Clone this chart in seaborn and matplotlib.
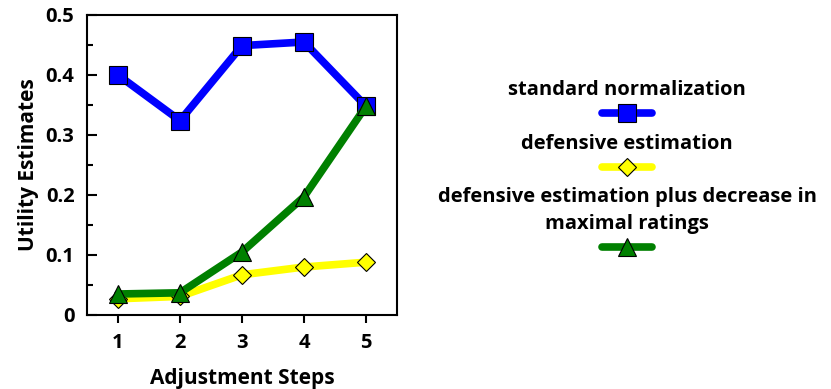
import matplotlib
matplotlib.use('Agg')
import matplotlib.pyplot as plt
import seaborn as sns
import pandas as pd
from matplotlib.lines import Line2D
from matplotlib.ticker import MultipleLocator

steps = [1, 2, 3, 4, 5]
standard_norm = [0.40, 0.324, 0.449, 0.455, 0.348]
defensive_est = [0.027, 0.031, 0.067, 0.080, 0.088]
defensive_plus = [0.035, 0.037, 0.105, 0.197, 0.348]

labels = ['standard normalization',
          'defensive estimation',
          'defensive estimation plus decrease in\nmaximal ratings']
colors = ['#0000ff', '#ffff00', '#008000']
markers = ['s', 'D', '^']
msizes = [13, 9, 13]

sns.set_style('white')
plt.rcParams['font.family'] = ['Open Sans', 'DejaVu Sans']
plt.rcParams['font.weight'] = 'bold'
for k in ['text.color', 'axes.labelcolor', 'xtick.color', 'ytick.color']:
    plt.rcParams[k] = 'black'

fig = plt.figure(figsize=(8.31, 3.89), dpi=100)
ax = fig.add_axes([87/831, 1 - 315/389, 310/831, 300/389])

series = [standard_norm, defensive_est, defensive_plus]
for vals, c, m, ms in zip(series, colors, markers, msizes):
    df = pd.DataFrame({'step': steps, 'val': vals})
    sns.lineplot(data=df, x='step', y='val', ax=ax, color=c, linewidth=5.5,
                 marker=m, markersize=ms, markeredgecolor='black',
                 markeredgewidth=0.8, legend=False)

ax.set_xlim(0.5, 5.5)
ax.set_ylim(0, 0.5)
ax.set_xticks(steps)
ax.set_yticks([0, 0.1, 0.2, 0.3, 0.4, 0.5])
ax.set_yticklabels(['0', '0.1', '0.2', '0.3', '0.4', '0.5'])
ax.yaxis.set_minor_locator(MultipleLocator(0.05))
ax.tick_params(axis='y', which='major', direction='in', length=7, width=1.5,
               labelsize=14.5, pad=9, left=True)
ax.tick_params(axis='y', which='minor', direction='in', length=4, width=1.5, left=True)
ax.tick_params(axis='x', which='major', direction='out', length=6, width=1.5,
               labelsize=14.5, pad=7, bottom=True)
for s in ax.spines.values():
    s.set_color('black')
    s.set_linewidth(1.5)
ax.set_xlabel('Adjustment Steps', fontsize=15, fontweight='bold', labelpad=11)
ax.set_ylabel('Utility Estimates', fontsize=15, fontweight='bold', labelpad=5)

# legend: one small legend per series, label written as the title above the sample
tops = [1 - 80/389, 1 - 134/389, 1 - 187/389]
for lab, c, m, ms, y in zip(labels, colors, markers, msizes, tops):
    h = Line2D([], [], color=c, linewidth=5.5, solid_capstyle='round',
               marker=m, markersize=ms, markeredgecolor='black', markeredgewidth=0.8)
    leg = fig.legend(handles=[h], labels=[''], title=lab, loc='upper center',
                     bbox_to_anchor=(627/831, y), frameon=False, handlelength=3.6,
                     handletextpad=0, borderpad=0, borderaxespad=0, handleheight=1.4,
                     title_fontproperties={'weight': 'bold', 'size': 14.5})
    leg.get_title().set_multialignment('center')
    leg.get_title().set_linespacing(1.45)

fig.savefig('out.png', dpi=100)
